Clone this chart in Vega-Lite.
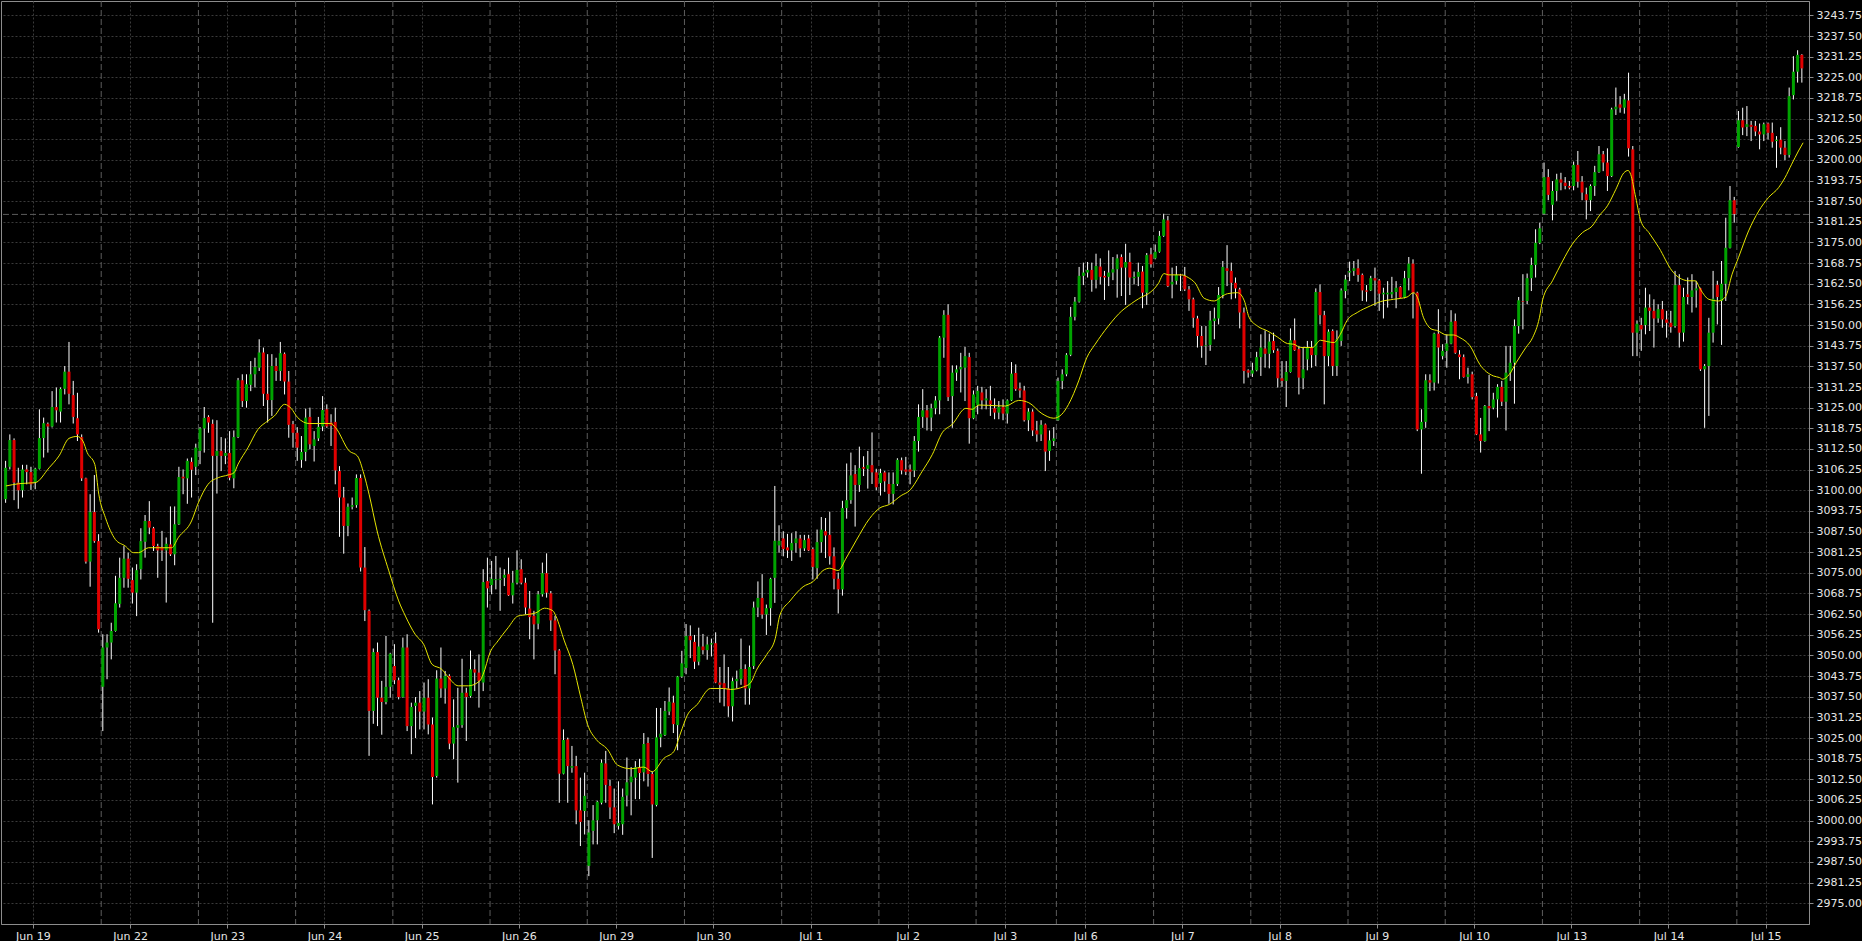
{
"$schema": "https://vega.github.io/schema/vega-lite/v6.json",
"width": 1808,
"height": 923,
"padding": 0,
"background": "#000000",
"config": {"view": {"stroke": "#8c8c8c", "strokeWidth": 1}, "axis": {"labelFont": "DejaVu Sans", "labelFontSize": 11, "labelColor": "#e6e6e6"}},
"datasets": {
"c": [
{"i":0,"o":3097.3,"h":3108.9,"l":3096.2,"c":3106.8},
{"i":1,"o":3107.1,"h":3116.9,"l":3106.3,"c":3115.2},
{"i":2,"o":3115.2,"h":3115.7,"l":3097.0,"c":3102.3},
{"i":3,"o":3102.3,"h":3106.8,"l":3094.4,"c":3100.0},
{"i":4,"o":3100.0,"h":3107.7,"l":3097.8,"c":3106.3},
{"i":5,"o":3106.3,"h":3107.7,"l":3101.8,"c":3105.5},
{"i":6,"o":3105.5,"h":3107.1,"l":3100.1,"c":3101.8},
{"i":7,"o":3102.5,"h":3106.8,"l":3100.3,"c":3106.5},
{"i":8,"o":3106.5,"h":3124.5,"l":3106.3,"c":3115.8},
{"i":9,"o":3115.8,"h":3122.0,"l":3109.9,"c":3120.3},
{"i":10,"o":3120.1,"h":3120.5,"l":3111.4,"c":3119.3},
{"i":11,"o":3119.3,"h":3130.0,"l":3119.0,"c":3125.2},
{"i":12,"o":3125.2,"h":3131.1,"l":3120.5,"c":3124.2},
{"i":13,"o":3123.8,"h":3131.1,"l":3120.5,"c":3130.7},
{"i":14,"o":3130.7,"h":3137.6,"l":3129.0,"c":3135.9},
{"i":15,"o":3135.9,"h":3144.9,"l":3126.0,"c":3129.2},
{"i":16,"o":3128.8,"h":3133.1,"l":3120.2,"c":3122.2},
{"i":17,"o":3121.8,"h":3129.5,"l":3114.9,"c":3116.9},
{"i":18,"o":3116.1,"h":3116.9,"l":3102.8,"c":3103.6},
{"i":19,"o":3103.6,"h":3103.8,"l":3077.8,"c":3078.4},
{"i":20,"o":3078.4,"h":3098.8,"l":3070.8,"c":3093.4},
{"i":21,"o":3093.4,"h":3104.6,"l":3084.1,"c":3084.6},
{"i":22,"o":3084.6,"h":3086.7,"l":3056.9,"c":3057.9},
{"i":23,"o":3040.5,"h":3056.4,"l":3027.1,"c":3052.4},
{"i":24,"o":3052.4,"h":3056.4,"l":3042.8,"c":3053.9},
{"i":25,"o":3053.9,"h":3059.9,"l":3048.8,"c":3057.4},
{"i":26,"o":3057.4,"h":3074.1,"l":3057.2,"c":3065.8},
{"i":27,"o":3065.6,"h":3079.6,"l":3064.5,"c":3073.5},
{"i":28,"o":3073.5,"h":3083.1,"l":3070.5,"c":3079.3},
{"i":29,"o":3079.3,"h":3081.1,"l":3070.5,"c":3073.2},
{"i":30,"o":3072.8,"h":3076.6,"l":3065.7,"c":3069.0},
{"i":31,"o":3069.0,"h":3077.6,"l":3061.9,"c":3075.8},
{"i":32,"o":3076.1,"h":3088.5,"l":3073.0,"c":3084.6},
{"i":33,"o":3084.4,"h":3092.5,"l":3079.6,"c":3090.7},
{"i":34,"o":3090.7,"h":3096.7,"l":3086.7,"c":3088.7},
{"i":35,"o":3088.5,"h":3088.9,"l":3081.6,"c":3083.1},
{"i":36,"o":3083.1,"h":3083.8,"l":3073.5,"c":3081.8},
{"i":37,"o":3082.8,"h":3087.7,"l":3078.6,"c":3081.8},
{"i":38,"o":3081.8,"h":3085.7,"l":3066.0,"c":3083.8},
{"i":39,"o":3083.6,"h":3095.1,"l":3080.1,"c":3080.6},
{"i":40,"o":3080.6,"h":3095.1,"l":3077.3,"c":3089.7},
{"i":41,"o":3089.7,"h":3107.1,"l":3089.5,"c":3104.0},
{"i":42,"o":3104.1,"h":3106.3,"l":3098.8,"c":3103.6},
{"i":43,"o":3103.6,"h":3109.6,"l":3095.9,"c":3108.9},
{"i":44,"o":3108.6,"h":3109.9,"l":3097.8,"c":3106.2},
{"i":45,"o":3107.1,"h":3114.1,"l":3104.6,"c":3112.9},
{"i":46,"o":3111.9,"h":3119.1,"l":3107.9,"c":3118.7},
{"i":47,"o":3118.7,"h":3125.2,"l":3111.4,"c":3121.9},
{"i":48,"o":3122.2,"h":3122.7,"l":3117.4,"c":3120.5},
{"i":49,"o":3120.1,"h":3121.4,"l":3059.9,"c":3110.4},
{"i":50,"o":3110.4,"h":3121.2,"l":3099.0,"c":3111.9},
{"i":51,"o":3111.9,"h":3116.1,"l":3105.8,"c":3110.4},
{"i":52,"o":3110.4,"h":3115.7,"l":3107.9,"c":3111.3},
{"i":53,"o":3111.3,"h":3117.9,"l":3103.0,"c":3103.8},
{"i":54,"o":3103.6,"h":3118.1,"l":3100.6,"c":3116.1},
{"i":55,"o":3116.1,"h":3134.0,"l":3115.8,"c":3133.3},
{"i":56,"o":3133.3,"h":3135.1,"l":3125.2,"c":3127.0},
{"i":57,"o":3127.0,"h":3135.1,"l":3125.0,"c":3132.1},
{"i":58,"o":3131.9,"h":3139.1,"l":3130.0,"c":3135.1},
{"i":59,"o":3135.1,"h":3140.1,"l":3131.1,"c":3137.3},
{"i":60,"o":3137.1,"h":3145.7,"l":3136.1,"c":3141.7},
{"i":61,"o":3141.7,"h":3143.2,"l":3125.5,"c":3129.2},
{"i":62,"o":3129.2,"h":3141.2,"l":3120.5,"c":3127.3},
{"i":63,"o":3127.3,"h":3141.2,"l":3122.5,"c":3137.6},
{"i":64,"o":3137.6,"h":3140.1,"l":3133.1,"c":3136.1},
{"i":65,"o":3136.1,"h":3144.9,"l":3133.1,"c":3141.5},
{"i":66,"o":3141.3,"h":3141.7,"l":3129.0,"c":3132.9},
{"i":67,"o":3132.9,"h":3136.1,"l":3115.9,"c":3119.8},
{"i":68,"o":3120.0,"h":3121.0,"l":3112.9,"c":3117.4},
{"i":69,"o":3117.4,"h":3119.1,"l":3108.9,"c":3112.9},
{"i":70,"o":3109.2,"h":3116.4,"l":3106.8,"c":3111.6},
{"i":71,"o":3111.6,"h":3124.7,"l":3108.8,"c":3122.0},
{"i":72,"o":3122.2,"h":3125.0,"l":3112.4,"c":3113.9},
{"i":73,"o":3113.4,"h":3117.9,"l":3108.7,"c":3115.4},
{"i":74,"o":3115.7,"h":3122.2,"l":3114.9,"c":3119.2},
{"i":75,"o":3119.3,"h":3128.5,"l":3117.9,"c":3124.3},
{"i":76,"o":3124.5,"h":3126.0,"l":3118.9,"c":3119.3},
{"i":77,"o":3120.5,"h":3123.0,"l":3113.4,"c":3119.5},
{"i":78,"o":3120.7,"h":3125.0,"l":3101.8,"c":3106.0},
{"i":79,"o":3105.8,"h":3107.3,"l":3085.9,"c":3097.8},
{"i":80,"o":3097.8,"h":3101.0,"l":3080.8,"c":3089.2},
{"i":81,"o":3089.2,"h":3096.0,"l":3086.1,"c":3095.0},
{"i":82,"o":3095.0,"h":3097.8,"l":3094.2,"c":3095.5},
{"i":83,"o":3095.5,"h":3104.8,"l":3094.7,"c":3103.7},
{"i":84,"o":3103.7,"h":3104.8,"l":3075.4,"c":3076.6},
{"i":85,"o":3076.6,"h":3082.8,"l":3060.4,"c":3063.7},
{"i":86,"o":3063.5,"h":3063.9,"l":3019.6,"c":3033.2},
{"i":87,"o":3033.2,"h":3052.1,"l":3029.3,"c":3051.0},
{"i":88,"o":3051.0,"h":3053.9,"l":3028.6,"c":3037.2},
{"i":89,"o":3037.2,"h":3042.3,"l":3026.0,"c":3035.9},
{"i":90,"o":3035.9,"h":3055.9,"l":3035.2,"c":3040.5},
{"i":91,"o":3040.5,"h":3050.8,"l":3037.2,"c":3050.5},
{"i":92,"o":3046.8,"h":3053.4,"l":3041.3,"c":3042.5},
{"i":93,"o":3042.5,"h":3043.3,"l":3036.7,"c":3037.4},
{"i":94,"o":3037.4,"h":3055.4,"l":3037.2,"c":3052.4},
{"i":95,"o":3052.4,"h":3056.4,"l":3027.1,"c":3028.6},
{"i":96,"o":3028.6,"h":3035.7,"l":3020.1,"c":3034.4},
{"i":97,"o":3034.7,"h":3037.4,"l":3025.0,"c":3035.7},
{"i":98,"o":3035.7,"h":3039.2,"l":3027.6,"c":3033.0},
{"i":99,"o":3033.0,"h":3041.8,"l":3027.6,"c":3037.2},
{"i":100,"o":3037.2,"h":3042.8,"l":3026.1,"c":3029.1},
{"i":101,"o":3029.1,"h":3031.2,"l":3004.9,"c":3013.2},
{"i":102,"o":3013.5,"h":3045.5,"l":3013.0,"c":3043.0},
{"i":103,"o":3043.0,"h":3052.4,"l":3037.2,"c":3040.0},
{"i":104,"o":3040.0,"h":3045.3,"l":3035.4,"c":3043.8},
{"i":105,"o":3043.8,"h":3044.3,"l":3021.6,"c":3023.3},
{"i":106,"o":3023.3,"h":3036.7,"l":3018.6,"c":3028.3},
{"i":107,"o":3028.1,"h":3040.2,"l":3011.5,"c":3028.9},
{"i":108,"o":3028.9,"h":3049.0,"l":3028.1,"c":3038.7},
{"i":109,"o":3038.7,"h":3040.2,"l":3024.1,"c":3037.4},
{"i":110,"o":3037.7,"h":3051.5,"l":3037.2,"c":3045.8},
{"i":111,"o":3045.8,"h":3048.8,"l":3039.2,"c":3044.8},
{"i":112,"o":3044.8,"h":3050.3,"l":3034.2,"c":3042.3},
{"i":113,"o":3041.8,"h":3076.1,"l":3039.2,"c":3072.2},
{"i":114,"o":3072.5,"h":3079.6,"l":3064.5,"c":3070.3},
{"i":115,"o":3071.3,"h":3078.6,"l":3068.5,"c":3073.2},
{"i":116,"o":3072.8,"h":3080.1,"l":3070.0,"c":3073.1},
{"i":117,"o":3072.8,"h":3076.6,"l":3063.5,"c":3073.2},
{"i":118,"o":3073.5,"h":3076.1,"l":3071.0,"c":3074.4},
{"i":119,"o":3074.6,"h":3079.6,"l":3068.0,"c":3068.2},
{"i":120,"o":3068.2,"h":3075.6,"l":3065.7,"c":3072.0},
{"i":121,"o":3072.0,"h":3081.8,"l":3071.5,"c":3075.9},
{"i":122,"o":3076.1,"h":3079.1,"l":3071.5,"c":3072.0},
{"i":123,"o":3072.0,"h":3073.5,"l":3062.4,"c":3064.5},
{"i":124,"o":3064.2,"h":3069.5,"l":3054.9,"c":3061.6},
{"i":125,"o":3062.0,"h":3063.5,"l":3048.8,"c":3059.4},
{"i":126,"o":3059.6,"h":3069.5,"l":3057.9,"c":3068.5},
{"i":127,"o":3068.5,"h":3078.1,"l":3067.8,"c":3074.9},
{"i":128,"o":3074.9,"h":3080.9,"l":3067.5,"c":3069.0},
{"i":129,"o":3068.8,"h":3069.5,"l":3057.4,"c":3060.6},
{"i":130,"o":3060.6,"h":3062.0,"l":3044.3,"c":3051.5},
{"i":131,"o":3051.5,"h":3051.9,"l":3005.4,"c":3014.2},
{"i":132,"o":3014.2,"h":3027.6,"l":3014.0,"c":3024.4},
{"i":133,"o":3024.6,"h":3025.1,"l":3005.4,"c":3016.5},
{"i":134,"o":3016.0,"h":3022.6,"l":3014.5,"c":3016.5},
{"i":135,"o":3016.5,"h":3019.6,"l":2998.9,"c":3003.1},
{"i":136,"o":3003.1,"h":3013.0,"l":2992.3,"c":2999.6},
{"i":137,"o":3002.9,"h":3014.5,"l":2995.8,"c":3007.5},
{"i":138,"o":2986.3,"h":3000.1,"l":2983.2,"c":2996.4},
{"i":139,"o":2996.9,"h":3004.7,"l":2992.8,"c":3000.1},
{"i":140,"o":3000.1,"h":3006.0,"l":2992.8,"c":3005.7},
{"i":141,"o":3005.4,"h":3018.5,"l":3004.9,"c":3017.5},
{"i":142,"o":3017.3,"h":3021.1,"l":3005.4,"c":3010.8},
{"i":143,"o":3010.5,"h":3012.4,"l":3000.5,"c":3004.0},
{"i":144,"o":3004.0,"h":3009.7,"l":2996.2,"c":2998.9},
{"i":145,"o":2998.4,"h":3011.9,"l":2997.3,"c":2999.3},
{"i":146,"o":2998.9,"h":3009.7,"l":2995.7,"c":3007.2},
{"i":147,"o":3007.6,"h":3019.1,"l":3004.3,"c":3011.6},
{"i":148,"o":3011.6,"h":3016.2,"l":3001.6,"c":3013.3},
{"i":149,"o":3013.0,"h":3018.0,"l":3006.5,"c":3016.2},
{"i":150,"o":3016.2,"h":3018.7,"l":3006.5,"c":3014.4},
{"i":151,"o":3014.6,"h":3026.5,"l":3011.9,"c":3023.2},
{"i":152,"o":3023.5,"h":3025.2,"l":3010.3,"c":3014.1},
{"i":153,"o":3014.1,"h":3014.8,"l":2988.7,"c":3004.9},
{"i":154,"o":3004.7,"h":3034.1,"l":3004.3,"c":3025.2},
{"i":155,"o":3025.2,"h":3034.1,"l":3022.2,"c":3026.3},
{"i":156,"o":3025.9,"h":3036.2,"l":3025.6,"c":3033.2},
{"i":157,"o":3033.0,"h":3040.3,"l":3031.9,"c":3036.0},
{"i":158,"o":3035.7,"h":3037.8,"l":3026.5,"c":3029.2},
{"i":159,"o":3028.9,"h":3043.8,"l":3021.3,"c":3043.6},
{"i":160,"o":3043.6,"h":3051.4,"l":3043.2,"c":3047.6},
{"i":161,"o":3046.2,"h":3059.5,"l":3044.3,"c":3055.9},
{"i":162,"o":3055.9,"h":3059.1,"l":3049.2,"c":3054.6},
{"i":163,"o":3054.1,"h":3056.2,"l":3045.9,"c":3048.1},
{"i":164,"o":3048.1,"h":3058.4,"l":3047.0,"c":3052.7},
{"i":165,"o":3052.7,"h":3056.5,"l":3050.3,"c":3051.6},
{"i":166,"o":3051.6,"h":3055.7,"l":3048.7,"c":3053.3},
{"i":167,"o":3053.3,"h":3055.1,"l":3049.7,"c":3053.7},
{"i":168,"o":3053.7,"h":3057.0,"l":3041.6,"c":3041.8},
{"i":169,"o":3041.8,"h":3046.5,"l":3035.7,"c":3041.1},
{"i":170,"o":3041.6,"h":3050.3,"l":3034.6,"c":3040.0},
{"i":171,"o":3040.0,"h":3046.5,"l":3031.4,"c":3034.6},
{"i":172,"o":3034.6,"h":3043.3,"l":3030.0,"c":3042.2},
{"i":173,"o":3042.2,"h":3045.4,"l":3040.0,"c":3042.9},
{"i":174,"o":3042.9,"h":3055.1,"l":3041.1,"c":3045.9},
{"i":175,"o":3045.9,"h":3047.3,"l":3035.1,"c":3040.0},
{"i":176,"o":3040.0,"h":3053.0,"l":3035.1,"c":3046.5},
{"i":177,"o":3046.8,"h":3066.3,"l":3045.9,"c":3064.5},
{"i":178,"o":3064.5,"h":3072.4,"l":3061.6,"c":3067.4},
{"i":179,"o":3067.4,"h":3074.6,"l":3061.1,"c":3062.4},
{"i":180,"o":3062.4,"h":3065.4,"l":3056.2,"c":3064.3},
{"i":181,"o":3064.3,"h":3073.5,"l":3059.0,"c":3073.2},
{"i":182,"o":3073.5,"h":3101.3,"l":3065.9,"c":3084.7},
{"i":183,"o":3083.3,"h":3089.4,"l":3081.1,"c":3084.7},
{"i":184,"o":3085.4,"h":3087.6,"l":3080.0,"c":3082.2},
{"i":185,"o":3082.7,"h":3086.8,"l":3079.5,"c":3081.8},
{"i":186,"o":3081.8,"h":3087.0,"l":3078.6,"c":3084.0},
{"i":187,"o":3084.0,"h":3087.6,"l":3081.1,"c":3085.4},
{"i":188,"o":3085.4,"h":3086.5,"l":3079.7,"c":3082.4},
{"i":189,"o":3082.4,"h":3086.5,"l":3081.6,"c":3084.9},
{"i":190,"o":3085.4,"h":3086.5,"l":3081.6,"c":3081.8},
{"i":191,"o":3082.2,"h":3082.7,"l":3073.0,"c":3076.8},
{"i":192,"o":3076.4,"h":3088.1,"l":3073.2,"c":3084.3},
{"i":193,"o":3084.3,"h":3091.9,"l":3081.1,"c":3088.1},
{"i":194,"o":3087.6,"h":3091.6,"l":3079.5,"c":3086.3},
{"i":195,"o":3086.5,"h":3093.5,"l":3077.5,"c":3080.0},
{"i":196,"o":3080.0,"h":3082.7,"l":3070.0,"c":3073.2},
{"i":197,"o":3073.2,"h":3075.1,"l":3062.7,"c":3070.0},
{"i":198,"o":3070.0,"h":3096.8,"l":3068.1,"c":3094.6},
{"i":199,"o":3094.6,"h":3108.1,"l":3091.4,"c":3097.0},
{"i":200,"o":3097.0,"h":3111.4,"l":3095.9,"c":3104.5},
{"i":201,"o":3104.9,"h":3107.6,"l":3089.0,"c":3101.6},
{"i":202,"o":3101.6,"h":3113.2,"l":3099.5,"c":3106.7},
{"i":203,"o":3107.0,"h":3110.3,"l":3104.3,"c":3106.5},
{"i":204,"o":3106.5,"h":3111.9,"l":3100.5,"c":3107.6},
{"i":205,"o":3107.6,"h":3117.5,"l":3101.9,"c":3105.4},
{"i":206,"o":3105.4,"h":3106.5,"l":3100.0,"c":3100.9},
{"i":207,"o":3102.2,"h":3106.5,"l":3098.4,"c":3105.2},
{"i":208,"o":3105.4,"h":3105.8,"l":3099.5,"c":3102.7},
{"i":209,"o":3101.9,"h":3105.4,"l":3095.9,"c":3098.9},
{"i":210,"o":3098.9,"h":3105.4,"l":3095.7,"c":3101.9},
{"i":211,"o":3101.9,"h":3109.7,"l":3101.3,"c":3109.2},
{"i":212,"o":3109.1,"h":3109.9,"l":3104.8,"c":3106.0},
{"i":213,"o":3106.3,"h":3110.1,"l":3104.6,"c":3105.6},
{"i":214,"o":3106.3,"h":3107.8,"l":3101.8,"c":3105.6},
{"i":215,"o":3106.0,"h":3116.4,"l":3104.0,"c":3114.9},
{"i":216,"o":3114.9,"h":3126.0,"l":3111.7,"c":3122.2},
{"i":217,"o":3122.2,"h":3130.6,"l":3118.9,"c":3124.2},
{"i":218,"o":3124.2,"h":3125.8,"l":3118.1,"c":3122.0},
{"i":219,"o":3122.0,"h":3126.2,"l":3117.9,"c":3124.8},
{"i":220,"o":3124.8,"h":3128.5,"l":3123.0,"c":3127.2},
{"i":221,"o":3127.2,"h":3146.7,"l":3123.0,"c":3146.2},
{"i":222,"o":3146.2,"h":3154.5,"l":3140.1,"c":3153.1},
{"i":223,"o":3153.1,"h":3156.3,"l":3127.0,"c":3128.2},
{"i":224,"o":3128.5,"h":3137.8,"l":3118.9,"c":3135.6},
{"i":225,"o":3135.6,"h":3137.8,"l":3133.1,"c":3136.6},
{"i":226,"o":3136.6,"h":3141.6,"l":3129.6,"c":3137.3},
{"i":227,"o":3137.1,"h":3143.4,"l":3127.0,"c":3140.6},
{"i":228,"o":3140.3,"h":3141.6,"l":3114.1,"c":3121.8},
{"i":229,"o":3121.8,"h":3130.2,"l":3121.5,"c":3129.0},
{"i":230,"o":3125.8,"h":3131.6,"l":3123.0,"c":3130.1},
{"i":231,"o":3129.6,"h":3131.3,"l":3124.5,"c":3127.2},
{"i":232,"o":3127.2,"h":3130.6,"l":3124.5,"c":3127.8},
{"i":233,"o":3127.2,"h":3131.6,"l":3122.5,"c":3126.0},
{"i":234,"o":3124.8,"h":3127.8,"l":3121.5,"c":3123.5},
{"i":235,"o":3123.5,"h":3127.0,"l":3121.5,"c":3125.2},
{"i":236,"o":3125.2,"h":3127.5,"l":3121.2,"c":3123.2},
{"i":237,"o":3123.2,"h":3127.5,"l":3120.2,"c":3127.2},
{"i":238,"o":3127.2,"h":3138.8,"l":3127.0,"c":3135.3},
{"i":239,"o":3135.5,"h":3138.1,"l":3130.1,"c":3130.6},
{"i":240,"o":3130.8,"h":3132.6,"l":3128.0,"c":3130.2},
{"i":241,"o":3130.2,"h":3131.6,"l":3120.8,"c":3121.2},
{"i":242,"o":3121.2,"h":3124.8,"l":3117.9,"c":3123.8},
{"i":243,"o":3123.8,"h":3124.5,"l":3116.4,"c":3118.1},
{"i":244,"o":3118.1,"h":3121.0,"l":3114.7,"c":3116.9},
{"i":245,"o":3116.9,"h":3121.2,"l":3114.9,"c":3119.8},
{"i":246,"o":3119.9,"h":3120.2,"l":3105.8,"c":3111.7},
{"i":247,"o":3111.9,"h":3118.1,"l":3108.9,"c":3115.1},
{"i":248,"o":3114.9,"h":3119.1,"l":3113.4,"c":3115.7},
{"i":249,"o":3121.2,"h":3134.1,"l":3121.0,"c":3133.1},
{"i":250,"o":3133.1,"h":3136.6,"l":3130.6,"c":3135.1},
{"i":251,"o":3135.1,"h":3141.5,"l":3134.5,"c":3141.0},
{"i":252,"o":3141.0,"h":3155.5,"l":3140.6,"c":3152.5},
{"i":253,"o":3152.5,"h":3158.5,"l":3151.4,"c":3157.1},
{"i":254,"o":3157.1,"h":3167.6,"l":3156.8,"c":3164.9},
{"i":255,"o":3164.9,"h":3168.9,"l":3162.1,"c":3165.9},
{"i":256,"o":3165.9,"h":3169.1,"l":3164.4,"c":3166.7},
{"i":257,"o":3166.7,"h":3168.9,"l":3160.1,"c":3163.7},
{"i":258,"o":3163.7,"h":3171.6,"l":3161.1,"c":3167.9},
{"i":259,"o":3167.7,"h":3170.2,"l":3162.3,"c":3164.6},
{"i":260,"o":3164.9,"h":3166.4,"l":3157.6,"c":3164.4},
{"i":261,"o":3164.6,"h":3172.6,"l":3161.8,"c":3165.9},
{"i":262,"o":3165.9,"h":3170.6,"l":3163.6,"c":3166.9},
{"i":263,"o":3166.9,"h":3171.4,"l":3158.3,"c":3170.2},
{"i":264,"o":3170.6,"h":3171.4,"l":3158.8,"c":3167.4},
{"i":265,"o":3167.4,"h":3174.6,"l":3156.1,"c":3169.1},
{"i":266,"o":3169.1,"h":3171.9,"l":3159.1,"c":3164.4},
{"i":267,"o":3164.2,"h":3166.2,"l":3162.3,"c":3164.6},
{"i":268,"o":3164.6,"h":3168.9,"l":3161.8,"c":3166.1},
{"i":269,"o":3166.2,"h":3167.9,"l":3155.1,"c":3159.8},
{"i":270,"o":3159.8,"h":3171.8,"l":3156.1,"c":3171.2},
{"i":271,"o":3171.4,"h":3173.4,"l":3167.4,"c":3168.4},
{"i":272,"o":3170.2,"h":3174.4,"l":3169.9,"c":3172.2},
{"i":273,"o":3172.2,"h":3178.5,"l":3171.9,"c":3177.0},
{"i":274,"o":3177.0,"h":3183.7,"l":3176.7,"c":3182.0},
{"i":275,"o":3181.7,"h":3183.0,"l":3161.5,"c":3161.8},
{"i":276,"o":3162.3,"h":3167.4,"l":3158.1,"c":3163.1},
{"i":277,"o":3163.4,"h":3167.9,"l":3162.3,"c":3165.2},
{"i":278,"o":3165.2,"h":3165.5,"l":3160.3,"c":3165.0},
{"i":279,"o":3164.9,"h":3167.6,"l":3160.3,"c":3160.8},
{"i":280,"o":3160.8,"h":3161.8,"l":3154.3,"c":3157.8},
{"i":281,"o":3157.8,"h":3158.3,"l":3149.2,"c":3152.2},
{"i":282,"o":3152.0,"h":3152.8,"l":3143.2,"c":3146.7},
{"i":283,"o":3146.7,"h":3149.7,"l":3140.1,"c":3143.7},
{"i":284,"o":3143.7,"h":3149.7,"l":3137.9,"c":3143.9},
{"i":285,"o":3144.0,"h":3154.3,"l":3142.2,"c":3151.4},
{"i":286,"o":3151.2,"h":3155.3,"l":3145.7,"c":3152.0},
{"i":287,"o":3152.0,"h":3161.5,"l":3150.2,"c":3159.1},
{"i":288,"o":3159.1,"h":3169.4,"l":3158.1,"c":3167.6},
{"i":289,"o":3167.2,"h":3174.2,"l":3161.8,"c":3166.4},
{"i":290,"o":3166.4,"h":3168.9,"l":3157.8,"c":3162.8},
{"i":291,"o":3162.8,"h":3164.4,"l":3158.1,"c":3161.1},
{"i":292,"o":3160.8,"h":3161.3,"l":3149.0,"c":3153.8},
{"i":293,"o":3153.8,"h":3155.3,"l":3132.3,"c":3136.1},
{"i":294,"o":3136.3,"h":3136.6,"l":3134.1,"c":3135.6},
{"i":295,"o":3135.3,"h":3138.6,"l":3134.3,"c":3136.3},
{"i":296,"o":3136.3,"h":3141.9,"l":3136.0,"c":3140.3},
{"i":297,"o":3140.3,"h":3147.2,"l":3134.6,"c":3143.2},
{"i":298,"o":3142.9,"h":3148.4,"l":3137.1,"c":3141.3},
{"i":299,"o":3141.3,"h":3147.4,"l":3136.9,"c":3145.0},
{"i":300,"o":3145.2,"h":3147.7,"l":3141.6,"c":3142.4},
{"i":301,"o":3142.2,"h":3142.9,"l":3131.1,"c":3133.9},
{"i":302,"o":3133.9,"h":3139.1,"l":3131.3,"c":3133.1},
{"i":303,"o":3133.1,"h":3139.1,"l":3125.2,"c":3135.8},
{"i":304,"o":3135.8,"h":3149.0,"l":3135.6,"c":3145.4},
{"i":305,"o":3145.4,"h":3152.0,"l":3142.2,"c":3142.4},
{"i":306,"o":3142.7,"h":3143.7,"l":3129.0,"c":3134.1},
{"i":307,"o":3133.9,"h":3143.4,"l":3130.6,"c":3136.6},
{"i":308,"o":3139.6,"h":3145.2,"l":3136.3,"c":3143.2},
{"i":309,"o":3143.2,"h":3145.2,"l":3137.1,"c":3140.9},
{"i":310,"o":3140.9,"h":3161.1,"l":3137.6,"c":3160.0},
{"i":311,"o":3160.0,"h":3162.3,"l":3150.2,"c":3153.0},
{"i":312,"o":3153.0,"h":3154.3,"l":3126.0,"c":3140.6},
{"i":313,"o":3140.6,"h":3148.7,"l":3137.6,"c":3148.0},
{"i":314,"o":3148.2,"h":3148.7,"l":3134.6,"c":3137.6},
{"i":315,"o":3137.6,"h":3148.4,"l":3134.6,"c":3145.7},
{"i":316,"o":3145.2,"h":3161.1,"l":3143.7,"c":3160.5},
{"i":317,"o":3160.3,"h":3165.2,"l":3158.1,"c":3163.8},
{"i":318,"o":3165.9,"h":3169.2,"l":3163.3,"c":3166.4},
{"i":319,"o":3166.4,"h":3169.4,"l":3164.9,"c":3167.2},
{"i":320,"o":3167.2,"h":3169.9,"l":3163.1,"c":3165.2},
{"i":321,"o":3165.2,"h":3165.6,"l":3157.3,"c":3160.5},
{"i":322,"o":3160.5,"h":3162.1,"l":3157.1,"c":3160.1},
{"i":323,"o":3160.5,"h":3164.9,"l":3160.3,"c":3164.2},
{"i":324,"o":3164.2,"h":3167.4,"l":3155.8,"c":3163.5},
{"i":325,"o":3163.5,"h":3163.9,"l":3154.3,"c":3159.5},
{"i":326,"o":3159.3,"h":3161.3,"l":3152.0,"c":3159.8},
{"i":327,"o":3159.3,"h":3163.3,"l":3155.3,"c":3159.8},
{"i":328,"o":3159.3,"h":3164.6,"l":3158.1,"c":3160.0},
{"i":329,"o":3160.0,"h":3163.3,"l":3155.1,"c":3161.3},
{"i":330,"o":3161.5,"h":3161.8,"l":3158.1,"c":3158.3},
{"i":331,"o":3158.3,"h":3166.4,"l":3158.1,"c":3164.2},
{"i":332,"o":3164.2,"h":3170.6,"l":3160.5,"c":3168.6},
{"i":333,"o":3168.6,"h":3169.9,"l":3152.0,"c":3159.8},
{"i":334,"o":3159.8,"h":3160.1,"l":3117.9,"c":3118.4},
{"i":335,"o":3118.4,"h":3124.5,"l":3105.0,"c":3120.7},
{"i":336,"o":3120.7,"h":3135.1,"l":3118.9,"c":3133.3},
{"i":337,"o":3133.3,"h":3135.1,"l":3130.0,"c":3132.6},
{"i":338,"o":3132.6,"h":3147.7,"l":3130.2,"c":3147.4},
{"i":339,"o":3147.4,"h":3154.8,"l":3132.3,"c":3143.2},
{"i":340,"o":3140.6,"h":3144.2,"l":3139.6,"c":3142.2},
{"i":341,"o":3142.2,"h":3147.2,"l":3137.1,"c":3144.4},
{"i":342,"o":3144.4,"h":3154.5,"l":3144.2,"c":3151.0},
{"i":343,"o":3151.2,"h":3153.5,"l":3141.3,"c":3141.6},
{"i":344,"o":3141.1,"h":3142.4,"l":3133.6,"c":3140.3},
{"i":345,"o":3140.3,"h":3141.1,"l":3134.1,"c":3134.3},
{"i":346,"o":3134.3,"h":3137.1,"l":3132.3,"c":3135.1},
{"i":347,"o":3135.1,"h":3135.9,"l":3127.5,"c":3128.2},
{"i":348,"o":3128.5,"h":3129.5,"l":3116.7,"c":3116.9},
{"i":349,"o":3116.9,"h":3121.9,"l":3111.4,"c":3114.9},
{"i":350,"o":3114.9,"h":3125.8,"l":3114.7,"c":3125.5},
{"i":351,"o":3125.5,"h":3134.9,"l":3117.9,"c":3124.8},
{"i":352,"o":3125.0,"h":3129.5,"l":3124.5,"c":3127.5},
{"i":353,"o":3127.5,"h":3132.1,"l":3122.0,"c":3131.3},
{"i":354,"o":3131.3,"h":3133.1,"l":3125.5,"c":3126.8},
{"i":355,"o":3126.8,"h":3143.7,"l":3118.1,"c":3135.6},
{"i":356,"o":3135.6,"h":3143.7,"l":3133.1,"c":3138.6},
{"i":357,"o":3138.6,"h":3151.7,"l":3126.2,"c":3149.7},
{"i":358,"o":3149.7,"h":3158.5,"l":3147.4,"c":3157.5},
{"i":359,"o":3157.3,"h":3165.4,"l":3148.7,"c":3157.1},
{"i":360,"o":3157.3,"h":3165.6,"l":3156.3,"c":3164.2},
{"i":361,"o":3164.2,"h":3170.4,"l":3160.3,"c":3168.2},
{"i":362,"o":3168.2,"h":3179.0,"l":3164.4,"c":3174.9},
{"i":363,"o":3174.9,"h":3181.0,"l":3174.5,"c":3179.3},
{"i":364,"o":3183.7,"h":3199.2,"l":3183.5,"c":3194.8},
{"i":365,"o":3194.8,"h":3197.2,"l":3187.8,"c":3189.4},
{"i":366,"o":3186.4,"h":3193.6,"l":3181.7,"c":3190.6},
{"i":367,"o":3190.6,"h":3195.8,"l":3187.6,"c":3194.1},
{"i":368,"o":3194.1,"h":3196.1,"l":3190.8,"c":3193.1},
{"i":369,"o":3193.1,"h":3194.8,"l":3191.1,"c":3192.1},
{"i":370,"o":3192.1,"h":3193.6,"l":3191.1,"c":3191.6},
{"i":371,"o":3192.1,"h":3199.5,"l":3190.8,"c":3198.5},
{"i":372,"o":3198.5,"h":3202.7,"l":3191.6,"c":3193.4},
{"i":373,"o":3193.4,"h":3195.1,"l":3187.8,"c":3190.1},
{"i":374,"o":3189.6,"h":3191.6,"l":3182.0,"c":3187.8},
{"i":375,"o":3187.8,"h":3192.6,"l":3184.5,"c":3192.1},
{"i":376,"o":3192.1,"h":3198.2,"l":3189.1,"c":3196.3},
{"i":377,"o":3196.3,"h":3204.2,"l":3196.1,"c":3201.7},
{"i":378,"o":3201.7,"h":3202.7,"l":3196.6,"c":3199.2},
{"i":379,"o":3199.2,"h":3203.5,"l":3190.6,"c":3195.1},
{"i":380,"o":3195.1,"h":3215.8,"l":3194.8,"c":3215.3},
{"i":381,"o":3215.3,"h":3221.9,"l":3213.6,"c":3216.1},
{"i":382,"o":3216.8,"h":3219.3,"l":3214.3,"c":3215.8},
{"i":383,"o":3215.8,"h":3220.0,"l":3214.0,"c":3218.3},
{"i":384,"o":3218.0,"h":3226.4,"l":3201.0,"c":3203.5},
{"i":385,"o":3203.2,"h":3204.2,"l":3140.6,"c":3147.7},
{"i":386,"o":3147.7,"h":3151.4,"l":3140.6,"c":3150.4},
{"i":387,"o":3150.0,"h":3152.2,"l":3142.2,"c":3148.7},
{"i":388,"o":3150.0,"h":3161.3,"l":3147.2,"c":3155.3},
{"i":389,"o":3155.3,"h":3159.3,"l":3148.2,"c":3154.3},
{"i":390,"o":3154.3,"h":3157.8,"l":3143.2,"c":3152.0},
{"i":391,"o":3152.0,"h":3156.3,"l":3150.7,"c":3154.8},
{"i":392,"o":3154.8,"h":3157.3,"l":3149.2,"c":3151.7},
{"i":393,"o":3151.7,"h":3154.3,"l":3146.2,"c":3150.7},
{"i":394,"o":3150.7,"h":3154.3,"l":3147.7,"c":3149.4},
{"i":395,"o":3149.7,"h":3166.4,"l":3149.2,"c":3162.1},
{"i":396,"o":3162.1,"h":3165.4,"l":3143.2,"c":3147.7},
{"i":397,"o":3147.7,"h":3161.3,"l":3145.0,"c":3158.5},
{"i":398,"o":3159.3,"h":3164.4,"l":3156.3,"c":3158.5},
{"i":399,"o":3158.5,"h":3165.4,"l":3153.8,"c":3160.5},
{"i":400,"o":3160.5,"h":3163.4,"l":3155.3,"c":3161.1},
{"i":401,"o":3161.1,"h":3161.3,"l":3136.1,"c":3136.6},
{"i":402,"o":3136.6,"h":3138.2,"l":3118.9,"c":3137.6},
{"i":403,"o":3137.6,"h":3152.2,"l":3122.5,"c":3147.7},
{"i":404,"o":3147.7,"h":3166.4,"l":3144.7,"c":3158.0},
{"i":405,"o":3162.2,"h":3163.4,"l":3150.2,"c":3158.5},
{"i":406,"o":3157.3,"h":3169.4,"l":3144.0,"c":3162.5},
{"i":407,"o":3162.5,"h":3182.5,"l":3157.3,"c":3173.4},
{"i":408,"o":3173.4,"h":3192.1,"l":3173.2,"c":3187.8},
{"i":409,"o":3187.8,"h":3188.8,"l":3181.0,"c":3183.6},
{"i":410,"o":3203.9,"h":3214.8,"l":3203.7,"c":3212.0},
{"i":411,"o":3212.0,"h":3215.8,"l":3207.5,"c":3209.8},
{"i":412,"o":3210.0,"h":3216.3,"l":3207.2,"c":3210.8},
{"i":413,"o":3210.6,"h":3211.8,"l":3205.7,"c":3210.0},
{"i":414,"o":3210.3,"h":3211.8,"l":3207.2,"c":3208.6},
{"i":415,"o":3208.6,"h":3211.0,"l":3203.2,"c":3207.7},
{"i":416,"o":3207.7,"h":3211.3,"l":3205.7,"c":3210.8},
{"i":417,"o":3211.0,"h":3211.3,"l":3206.2,"c":3208.2},
{"i":418,"o":3208.2,"h":3211.3,"l":3203.7,"c":3205.5},
{"i":419,"o":3205.7,"h":3207.2,"l":3197.6,"c":3206.1},
{"i":420,"o":3206.1,"h":3209.9,"l":3201.7,"c":3203.7},
{"i":421,"o":3203.7,"h":3205.7,"l":3199.9,"c":3201.5},
{"i":422,"o":3201.5,"h":3221.9,"l":3200.7,"c":3219.3},
{"i":423,"o":3219.6,"h":3231.4,"l":3218.3,"c":3226.7},
{"i":424,"o":3226.7,"h":3233.2,"l":3223.4,"c":3231.8},
{"i":425,"o":3231.8,"h":3232.0,"l":3223.4,"c":3227.7}
],
"ma": [
{"i":0.09,"v":3101.3},{"i":3.23,"v":3102.0},{"i":7.0,"v":3102.3},{"i":10.29,"v":3106.8},{"i":12.64,"v":3110.4},{"i":15.0,"v":3115.7},{"i":16.96,"v":3116.3},{"i":18.29,"v":3114.9},{"i":19.31,"v":3111.4},{"i":21.11,"v":3107.8},{"i":22.05,"v":3098.8},{"i":23.62,"v":3091.7},{"i":25.98,"v":3085.1},{"i":28.33,"v":3083.1},{"i":30.29,"v":3081.1},{"i":31.47,"v":3081.1},{"i":33.82,"v":3082.6},{"i":39.3,"v":3082.6},{"i":40.88,"v":3085.7},{"i":44.0,"v":3090.7},{"i":45.6,"v":3096.2},{"i":47.9,"v":3101.8},{"i":50.3,"v":3103.8},{"i":52.6,"v":3104.6},{"i":54.05,"v":3105.3},{"i":55.0,"v":3107.9},{"i":57.35,"v":3112.9},{"i":59.7,"v":3118.4},{"i":62.05,"v":3121.0},{"i":63.6,"v":3122.5},{"i":66.0,"v":3126.0},{"i":67.55,"v":3124.8},{"i":69.1,"v":3122.0},{"i":71.86,"v":3120.2},{"i":76.96,"v":3120.2},{"i":78.1,"v":3118.9},{"i":81.3,"v":3111.9},{"i":83.23,"v":3110.4},{"i":84.8,"v":3104.8},{"i":86.0,"v":3098.8},{"i":87.9,"v":3087.7},{"i":90.67,"v":3075.6},{"i":93.0,"v":3066.5},{"i":94.6,"v":3061.9},{"i":96.9,"v":3056.4},{"i":98.9,"v":3053.4},{"i":100.9,"v":3047.3},{"i":103.2,"v":3045.8},{"i":104.8,"v":3043.3},{"i":107.1,"v":3040.8},{"i":109.5,"v":3040.8},{"i":112.2,"v":3042.3},{"i":113.0,"v":3044.3},{"i":114.6,"v":3050.8},{"i":116.5,"v":3054.4},{"i":118.9,"v":3058.4},{"i":121.2,"v":3061.9},{"i":123.6,"v":3062.4},{"i":125.5,"v":3062.9},{"i":127.5,"v":3064.3},{"i":129.5,"v":3063.5},{"i":130.2,"v":3061.9},{"i":132.2,"v":3054.4},{"i":134.2,"v":3047.3},{"i":136.1,"v":3037.2},{"i":137.7,"v":3029.1},{"i":139.7,"v":3024.6},{"i":142.4,"v":3021.6},{"i":144.8,"v":3016.8},{"i":147.9,"v":3015.7},{"i":151.0,"v":3016.2},{"i":153.0,"v":3014.8},{"i":155.8,"v":3018.9},{"i":158.1,"v":3020.9},{"i":159.7,"v":3026.5},{"i":161.3,"v":3031.9},{"i":163.6,"v":3035.1},{"i":166.8,"v":3040.0},{"i":169.9,"v":3040.0},{"i":171.5,"v":3039.7},{"i":174.6,"v":3040.5},{"i":176.2,"v":3041.6},{"i":177.8,"v":3045.9},{"i":180.1,"v":3050.3},{"i":182.1,"v":3055.1},{"i":183.2,"v":3062.2},{"i":185.6,"v":3066.5},{"i":188.7,"v":3070.8},{"i":191.1,"v":3072.4},{"i":193.4,"v":3075.7},{"i":195.0,"v":3076.4},{"i":197.0,"v":3075.7},{"i":198.9,"v":3079.5},{"i":201.3,"v":3084.9},{"i":204.4,"v":3091.4},{"i":206.8,"v":3094.6},{"i":209.1,"v":3095.7},{"i":211.9,"v":3098.4},{"i":213.8,"v":3099.8},{"i":216.9,"v":3105.8},{"i":219.3,"v":3110.9},{"i":221.6,"v":3117.4},{"i":224.0,"v":3120.0},{"i":227.2,"v":3124.8},{"i":228.7,"v":3124.5},{"i":230.3,"v":3125.8},{"i":232.6,"v":3125.7},{"i":236.6,"v":3125.5},{"i":239.7,"v":3127.2},{"i":242.1,"v":3126.5},{"i":245.2,"v":3123.2},{"i":248.0,"v":3121.8},{"i":249.9,"v":3123.0},{"i":251.5,"v":3126.0},{"i":253.9,"v":3133.1},{"i":255.8,"v":3140.1},{"i":257.8,"v":3144.2},{"i":260.9,"v":3149.7},{"i":264.1,"v":3154.3},{"i":265.6,"v":3155.8},{"i":268.8,"v":3158.5},{"i":270.4,"v":3159.5},{"i":272.7,"v":3162.5},{"i":274.1,"v":3165.6},{"i":275.1,"v":3165.2},{"i":278.2,"v":3165.2},{"i":279.8,"v":3164.4},{"i":281.4,"v":3162.8},{"i":283.6,"v":3158.1},{"i":286.0,"v":3157.3},{"i":287.6,"v":3158.5},{"i":289.1,"v":3159.5},{"i":291.5,"v":3159.8},{"i":293.1,"v":3157.3},{"i":294.2,"v":3152.4},{"i":296.2,"v":3149.7},{"i":298.6,"v":3148.2},{"i":300.9,"v":3146.4},{"i":303.3,"v":3144.4},{"i":304.8,"v":3144.2},{"i":306.4,"v":3143.2},{"i":309.2,"v":3143.2},{"i":311.1,"v":3145.4},{"i":312.7,"v":3145.0},{"i":314.3,"v":3144.7},{"i":315.8,"v":3147.2},{"i":317.4,"v":3151.4},{"i":319.8,"v":3153.8},{"i":322.9,"v":3155.8},{"i":325.3,"v":3157.1},{"i":328.4,"v":3157.8},{"i":331.6,"v":3158.5},{"i":333.1,"v":3159.8},{"i":333.9,"v":3158.8},{"i":335.5,"v":3152.2},{"i":337.5,"v":3148.7},{"i":338.6,"v":3148.4},{"i":341.0,"v":3147.0},{"i":342.6,"v":3147.0},{"i":344.1,"v":3146.2},{"i":346.5,"v":3143.7},{"i":348.8,"v":3138.1},{"i":352.0,"v":3134.6},{"i":353.5,"v":3134.1},{"i":354.2,"v":3133.6},{"i":355.8,"v":3135.1},{"i":357.4,"v":3138.6},{"i":359.7,"v":3143.2},{"i":361.3,"v":3146.2},{"i":362.9,"v":3152.2},{"i":363.7,"v":3157.8},{"i":366.0,"v":3163.4},{"i":368.4,"v":3169.4},{"i":370.7,"v":3174.5},{"i":373.1,"v":3178.0},{"i":375.4,"v":3180.0},{"i":377.0,"v":3183.0},{"i":379.0,"v":3186.1},{"i":381.0,"v":3191.1},{"i":382.9,"v":3196.1},{"i":383.9,"v":3196.8},{"i":384.5,"v":3195.6},{"i":385.7,"v":3188.6},{"i":386.9,"v":3181.5},{"i":388.8,"v":3178.0},{"i":391.2,"v":3173.4},{"i":394.3,"v":3166.4},{"i":395.9,"v":3164.4},{"i":398.3,"v":3163.4},{"i":399.8,"v":3163.4},{"i":401.0,"v":3160.8},{"i":403.0,"v":3157.8},{"i":405.3,"v":3157.3},{"i":406.9,"v":3158.5},{"i":408.5,"v":3165.4},{"i":410.0,"v":3170.4},{"i":412.4,"v":3178.5},{"i":414.8,"v":3184.5},{"i":417.1,"v":3188.6},{"i":419.5,"v":3191.6},{"i":421.0,"v":3194.6},{"i":422.6,"v":3198.7},{"i":424.2,"v":3202.7},{"i":425.3,"v":3205.2}
],
"days": [
{"start":23},{"start":46},{"start":69},{"start":92},{"start":115},{"start":138},{"start":161},{"start":184},{"start":207},{"start":230},{"start":249},{"start":272},{"start":295},{"start":318},{"start":341},{"start":364},{"start":387},{"start":410}
],
"level": [{"v":3183.5}]
},
"layer": [
{
"data": {"name": "days"},
"mark": {"type": "rule", "color": "#5c5c5c", "strokeWidth": 1, "strokeDash": [6, 3], "xOffset": -1.6},
"encoding": {
"x": {"field": "start", "type": "quantitative",
"scale": {"domain": [0.094, 425.51], "nice": false, "zero": false},
"axis": {"orient": "bottom", "title": null, "tickCount": 100,
"values": [6.45, 29.45, 52.45, 75.45, 98.45, 121.45, 144.45, 167.45, 190.45, 213.45, 236.45, 255.45, 278.45, 301.45, 324.45, 347.45, 370.45, 393.45, 416.45],
"labelExpr": "datum.value < 20 ? 'Jun 19' : datum.value < 40 ? 'Jun 22' : datum.value < 60 ? 'Jun 23' : datum.value < 85 ? 'Jun 24' : datum.value < 110 ? 'Jun 25' : datum.value < 130 ? 'Jun 26' : datum.value < 150 ? 'Jun 29' : datum.value < 175 ? 'Jun 30' : datum.value < 200 ? 'Jul 1' : datum.value < 225 ? 'Jul 2' : datum.value < 245 ? 'Jul 3' : datum.value < 265 ? 'Jul 6' : datum.value < 290 ? 'Jul 7' : datum.value < 310 ? 'Jul 8' : datum.value < 335 ? 'Jul 9' : datum.value < 360 ? 'Jul 10' : datum.value < 380 ? 'Jul 13' : datum.value < 405 ? 'Jul 14' : 'Jul 15'",
"labelOverlap": false, "labelFlush": false, "labelPadding": 2,
"tickSize": 4, "tickColor": "#8c8c8c", "domainColor": "#8c8c8c",
"grid": true, "gridColor": "#3a3a3a", "gridDash": [2, 2], "gridWidth": 1}}
}
},
{
"data": {"name": "level"},
"mark": {"type": "rule", "color": "#5c5c5c", "strokeWidth": 1, "strokeDash": [6, 3]},
"encoding": {
"y": {"field": "v", "type": "quantitative",
"scale": {"domain": [2968.7, 3248.1], "nice": false, "zero": false},
"axis": {"orient": "right", "title": null, "tickCount": 100,
"values": [2975, 2981.25, 2987.5, 2993.75, 3000, 3006.25, 3012.5, 3018.75, 3025, 3031.25, 3037.5, 3043.75, 3050, 3056.25, 3062.5, 3068.75, 3075, 3081.25, 3087.5, 3093.75, 3100, 3106.25, 3112.5, 3118.75, 3125, 3131.25, 3137.5, 3143.75, 3150, 3156.25, 3162.5, 3168.75, 3175, 3181.25, 3187.5, 3193.75, 3200, 3206.25, 3212.5, 3218.75, 3225, 3231.25, 3237.5, 3243.75],
"format": ".2f", "labelOverlap": false, "labelFlush": false, "labelPadding": 3,
"tickSize": 4, "tickColor": "#8c8c8c", "domainColor": "#8c8c8c",
"grid": true, "gridColor": "#3a3a3a", "gridDash": [2, 2], "gridWidth": 1}}
}
},
{
"data": {"name": "c"},
"mark": {"type": "rule", "color": "#ffffff", "strokeWidth": 1, "clip": true},
"encoding": {
"x": {"field": "i", "type": "quantitative"},
"y": {"field": "l", "type": "quantitative"},
"y2": {"field": "h"}
}
},
{
"data": {"name": "c"},
"mark": {"type": "bar", "size": 3, "clip": true},
"encoding": {
"x": {"field": "i", "type": "quantitative"},
"y": {"field": "o", "type": "quantitative"},
"y2": {"field": "c"},
"color": {"condition": {"test": "datum.c > datum.o", "value": "#00a300"}, "value": "#e00000"}
}
},
{
"data": {"name": "ma"},
"mark": {"type": "line", "color": "#e6e600", "strokeWidth": 1, "interpolate": "monotone", "clip": true},
"encoding": {
"x": {"field": "i", "type": "quantitative"},
"y": {"field": "v", "type": "quantitative"}
}
}
]
}
